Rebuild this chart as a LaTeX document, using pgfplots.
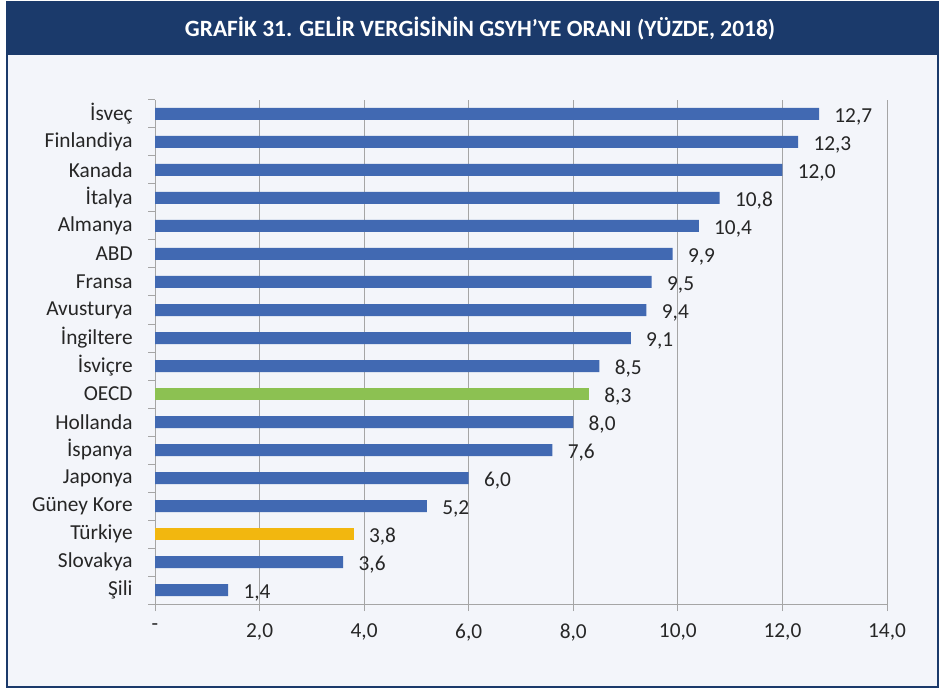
\documentclass[border=0pt]{standalone}
\usepackage{pgfplots}
\pgfplotsset{compat=1.18}
\usepackage{fontspec}
\setmainfont{Carlito}
\definecolor{framebl}{HTML}{1B3A6B}
\definecolor{bg}{HTML}{F3F5FA}
\definecolor{barbl}{HTML}{4169B2}
\definecolor{bargr}{HTML}{8CC152}
\definecolor{baryl}{HTML}{F2B70F}
\definecolor{gridc}{HTML}{A5A5A5}
\definecolor{txt}{HTML}{262626}

\begin{document}
\begin{tikzpicture}[x=0.75pt,y=0.75pt]
% frame and title bar (1 unit = 1 px of the reference)
\fill[white] (0,0) rectangle (944,689);
\filldraw[fill=bg, draw=framebl, line width=1.5pt] (6.5,2) rectangle (937.5,687);
\fill[framebl] (6.5,634) rectangle (937.5,687);
\node[text=white, inner sep=0pt] at (480,660)
  {\resizebox{442.5pt}{\height}{\fontsize{17.5}{20}\selectfont\bfseries GRAFİK 31. GELİR VERGİSİNİN GSYH’YE ORANI (YÜZDE, 2018)}};

\begin{axis}[
    at={(116.25pt,63.75pt)}, anchor=south west,
    scale only axis, width=549pt, height=378pt,
    xmin=0, xmax=14, ymin=-0.5, ymax=17.5,
    axis x line*=bottom, axis y line*=left,
    axis line style={gridc, line width=0.75pt, -},
    xtick={0,2,...,14},
    xticklabels={-,{2,0},{4,0},{6,0},{8,0},{10,0},{12,0},{14,0}},
    ytick={0,...,17},
    yticklabels={Şili,Slovakya,Türkiye,Güney Kore,Japonya,İspanya,Hollanda,OECD,İsviçre,İngiltere,Avusturya,Fransa,ABD,Almanya,İtalya,Kanada,Finlandiya,İsveç},
    minor ytick={-0.5,0.5,...,17.5},
    tick align=outside,
    major tick length=5.25pt, minor tick length=5.25pt,
    major y tick style={draw=none},
    minor y tick style={gridc, line width=0.75pt},
    major x tick style={gridc, line width=0.75pt},
    xmajorgrids, major grid style={gridc, line width=0.75pt},
    tick label style={font=\fontsize{16}{19}\selectfont, text=txt},
    xticklabel style={yshift=-6pt},
    yticklabel style={xshift=-8pt},
    xbar, bar width=9pt, bar shift=0pt,
    /pgf/number format/.cd, fixed, fixed zerofill, precision=1, use comma, assume math mode=true,
    /pgfplots/.cd,
    nodes near coords,
    nodes near coords style={font=\fontsize{16}{19}\selectfont, text=txt, anchor=west, xshift=8pt, yshift=-2pt},
]
\addplot[fill=barbl, draw=none] coordinates {
    (1.4,0) (3.6,1) (5.2,3) (6.0,4) (7.6,5) (8.0,6) (8.5,8) (9.1,9)
    (9.4,10) (9.5,11) (9.9,12) (10.4,13) (10.8,14) (12.0,15) (12.3,16) (12.7,17)
};
\addplot[fill=bargr, draw=none] coordinates {(8.3,7)};
\addplot[fill=baryl, draw=none] coordinates {(3.8,2)};
\end{axis}
\end{tikzpicture}
\end{document}
